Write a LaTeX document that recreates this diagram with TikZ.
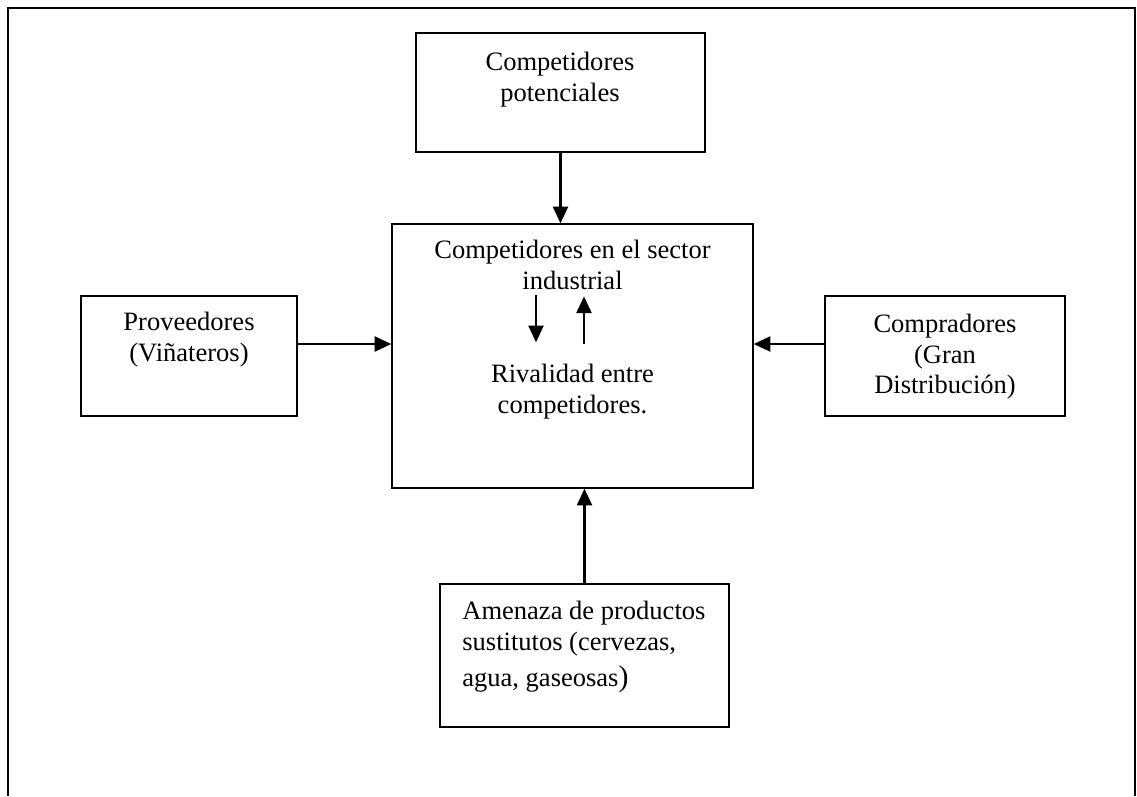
\documentclass[tikz,border=0pt]{standalone}
\usepackage{fontspec}
\setmainfont{Liberation Serif}
\usetikzlibrary{arrows.meta,positioning}

\begin{document}
\begin{tikzpicture}[x=0.02cm,y=-0.02cm,
  box/.style={draw,line width=0.8pt,inner sep=0pt},
  txt/.style={inner sep=0pt,font=\fontsize{15.1}{17.4}\selectfont},
  arr/.style={line width=1.4pt,-{Triangle[length=9.5pt,width=8.5pt]}}]
  \useasboundingbox (0,0) rectangle (1137,796);
  % outer frame, open at the bottom
  \draw[line width=1.1pt] (8,796) -- (8,8) -- (1135,8) -- (1135,796);
  % boxes
  \node[box,minimum width=5.78cm,minimum height=2.38cm] (pot) at (560.5,92.5) {};
  \node[box,minimum width=7.22cm,minimum height=5.28cm] (sec) at (572.5,356) {};
  \node[box,minimum width=4.32cm,minimum height=2.4cm] (prov) at (189,356) {};
  \node[box,minimum width=4.8cm,minimum height=2.4cm] (comp) at (945,356) {};
  \node[box,minimum width=5.78cm,minimum height=2.86cm] (sust) at (584.5,655.5) {};
  % texts
  \node[txt,align=center,anchor=north] (potT) at (560,52) {Competidores\\potenciales};
  \node[txt,align=center,anchor=north] (secT) at (572.5,240) {Competidores en el sector\\industrial};
  \node[txt,align=center,anchor=north] (rivT) at (572.5,364) {Rivalidad entre\\competidores.};
  \node[txt,align=center,anchor=north] (provT) at (189,312) {Proveedores\\(Viñateros)};
  \node[txt,align=center,anchor=north] (compT) at (945,314) {Compradores\\(Gran\\Distribución)};
  \node[txt,align=left,anchor=north west] (sustT) at (462,601)
    {Amenaza de productos\\sustitutos (cervezas,\\[3pt]agua, gaseosas{\fontsize{17}{17}\selectfont)}};
  % arrows
  \draw[arr] (pot.south) -- (pot.south |- sec.north);
  \draw[arr] ([yshift=0.24cm]prov.east) -- ([yshift=0.24cm]prov.east -| sec.west);
  \draw[arr] ([yshift=0.24cm]comp.west) -- ([yshift=0.24cm]comp.west -| sec.east);
  \draw[arr] (sust.north) -- (sust.north |- sec.south);
  \draw[arr] ([xshift=-0.73cm,yshift=-1.44cm]sec.north) -- ([xshift=-0.73cm,yshift=-2.38cm]sec.north);
  \draw[arr] ([xshift=0.23cm,yshift=-2.42cm]sec.north) -- ([xshift=0.23cm,yshift=-1.46cm]sec.north);
\end{tikzpicture}
\end{document}
